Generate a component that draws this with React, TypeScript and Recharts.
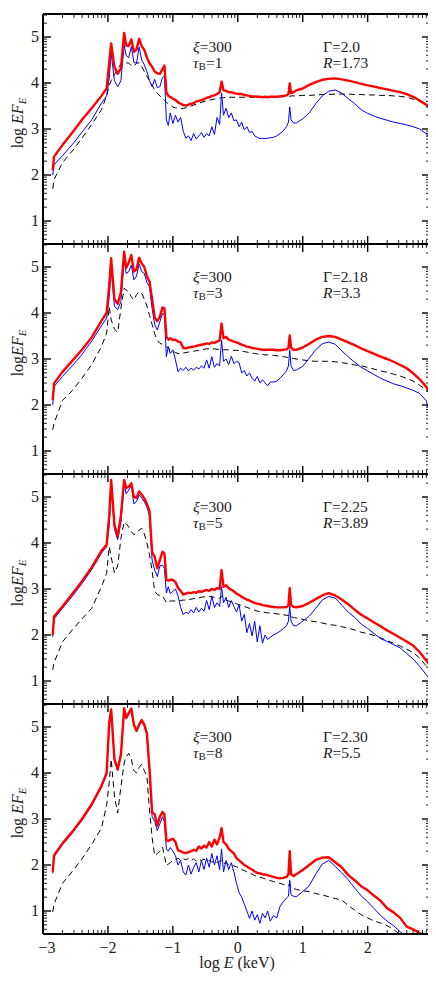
import React from "react";
import { LineChart, Line, XAxis, YAxis } from "recharts";

// log E (keV) sample points shared by every spectrum
const E_GRID = [
  -2.85, -2.83, -2.7, -2.55, -2.4, -2.25, -2.1, -2.02,
  -1.98, -1.95, -1.9, -1.85, -1.8, -1.75, -1.72, -1.68, -1.64, -1.6, -1.56, -1.52, -1.48, -1.44, -1.4, -1.36, -1.32, -1.28, -1.24, -1.2, -1.16, -1.13, -1.1, -1.07, -1.04, -1.0,
  -0.96, -0.92, -0.88, -0.84, -0.8, -0.76, -0.72, -0.68, -0.64, -0.6, -0.56, -0.52, -0.48, -0.44, -0.4, -0.36, -0.32, -0.28, -0.25, -0.22, -0.18, -0.14, -0.1, -0.06, -0.02, 0.02, 0.06, 0.1, 0.14, 0.18, 0.22, 0.26, 0.3, 0.34, 0.38, 0.42, 0.46, 0.5,
  0.55, 0.6, 0.65, 0.7, 0.75, 0.78, 0.8, 0.82, 0.86, 0.9,
  1.0, 1.1, 1.2, 1.3, 1.4, 1.5, 1.6, 1.7, 1.8, 1.9, 2.0, 2.1, 2.2, 2.3, 2.4, 2.5, 2.6, 2.7, 2.8, 2.9, 2.98,
];

// panel 1: xi=300, tau_B=1
const RED_1 = [
  2.1, 2.4, 2.65, 2.92, 3.2, 3.45, 3.72, 3.88,
  4.45, 4.86, 4.35, 4.2, 4.32, 5.09, 4.82, 4.8, 4.95, 4.68, 4.72, 4.96, 4.8, 4.72, 4.55, 4.43, 4.35, 4.25, 4.21, 4.2, 4.3, 4.38, 3.8, 3.72, 3.7, 3.66,
  3.63, 3.58, 3.55, 3.52, 3.51, 3.53, 3.55, 3.56, 3.6, 3.61, 3.63, 3.65, 3.68, 3.69, 3.72, 3.73, 3.76, 3.8, 4.03, 3.84, 3.83, 3.8, 3.8, 3.78, 3.77, 3.76, 3.76, 3.74, 3.73, 3.72, 3.71, 3.71, 3.7, 3.7, 3.69, 3.7, 3.69, 3.7,
  3.7, 3.7, 3.71, 3.72, 3.73, 3.76, 3.99, 3.78, 3.8, 3.84,
  3.88, 3.96, 4.02, 4.07, 4.09, 4.1, 4.08, 4.05, 4.02, 3.98, 3.95, 3.92, 3.89, 3.86, 3.83, 3.8, 3.76, 3.7, 3.62, 3.53, 3.44,
];
const BLUE_1 = [
  2.0, 2.22, 2.42, 2.66, 2.93, 3.2, 3.56, 3.72,
  4.1, 4.65, 4.05, 3.92, 4.05, 4.83, 4.6, 4.55, 4.79, 4.45, 4.43, 4.78, 4.5, 4.4, 4.25, 4.05, 3.92, 4.08, 3.9, 3.92, 4.12, 4.15, 3.2, 3.08, 3.35, 3.12,
  3.3, 3.15, 3.25, 2.95, 2.8, 2.85, 2.75, 2.9, 2.78, 2.85, 2.92, 2.82, 2.9, 2.85, 3.05, 2.88, 3.25, 3.1, 3.78, 3.3, 3.45, 3.25, 3.35, 3.18, 3.2, 3.05, 3.15, 2.98, 3.05, 2.92, 2.95, 2.85, 2.82, 2.79, 2.8, 2.79, 2.8, 2.81,
  2.82, 2.85, 2.9, 2.96, 3.05, 3.15, 3.48, 3.2, 3.13, 3.13,
  3.22, 3.35, 3.55, 3.72, 3.82, 3.85, 3.78, 3.66, 3.55, 3.42, 3.34, 3.28, 3.23, 3.19, 3.15, 3.12, 3.09, 3.05, 3.0, 2.9, 2.75,
];
const DASH_1 = [
  1.7, 1.9, 2.27, 2.52, 2.8, 3.1, 3.42, 3.72,
  3.95, 4.05, 4.18, 4.3, 4.42, 4.45, 4.44, 4.43, 4.38, 4.36, 4.43, 4.44, 4.36, 4.25, 4.15, 4.05, 3.95, 3.85, 3.78, 3.72, 3.66, 3.62, 3.58, 3.55, 3.52, 3.48,
  3.46, 3.45, 3.44, 3.45, 3.46, 3.48, 3.5, 3.52, 3.54, 3.56, 3.58, 3.6, 3.61, 3.62, 3.64, 3.65, 3.66, 3.67, 3.68, 3.68, 3.69, 3.69, 3.69, 3.69, 3.69, 3.69, 3.69, 3.69, 3.69, 3.69, 3.69, 3.69, 3.69, 3.69, 3.69, 3.69, 3.69, 3.69,
  3.69, 3.7, 3.7, 3.7, 3.71, 3.71, 3.71, 3.72, 3.72, 3.72,
  3.73, 3.73, 3.74, 3.75, 3.75, 3.76, 3.76, 3.76, 3.75, 3.75, 3.74, 3.74, 3.73, 3.73, 3.72, 3.71, 3.69, 3.65, 3.6, 3.53, 3.47,
];

// panel 2: xi=300, tau_B=3
const RED_2 = [
  2.11, 2.47, 2.72, 2.96, 3.2, 3.47, 3.83, 4.0,
  4.6, 5.19, 4.3, 4.2, 4.45, 5.33, 4.98, 5.1, 5.26, 4.9, 4.95, 5.2, 5.08, 5.0, 4.8, 4.68, 4.3, 3.9, 3.82, 3.92, 4.12, 4.1, 3.48, 3.42, 3.45, 3.41,
  3.42, 3.38, 3.36, 3.24, 3.23, 3.25, 3.26, 3.27, 3.28, 3.3, 3.31, 3.32, 3.34, 3.33, 3.36, 3.35, 3.38, 3.4, 3.77, 3.45, 3.48, 3.42, 3.4, 3.38, 3.36, 3.34, 3.31, 3.29, 3.27, 3.26, 3.24, 3.23, 3.22, 3.21, 3.2, 3.2, 3.2, 3.2,
  3.2, 3.19, 3.19, 3.2, 3.21, 3.24, 3.51, 3.25, 3.2, 3.2,
  3.25, 3.33, 3.42, 3.48, 3.5, 3.48, 3.42, 3.36, 3.3, 3.23, 3.17, 3.11, 3.05, 3.0, 2.94, 2.87, 2.8, 2.69, 2.56, 2.4, 2.2,
];
const BLUE_2 = [
  2.0, 2.4, 2.62, 2.85, 3.1, 3.39, 3.72, 3.89,
  4.35, 4.94, 4.15, 4.07, 4.25, 5.19, 4.86, 4.9, 5.04, 4.72, 4.8, 5.07, 4.9, 4.86, 4.66, 4.57, 4.1, 3.75, 3.63, 3.81, 3.99, 3.95, 3.05, 3.27, 3.12, 3.2,
  2.98, 2.72, 2.8, 2.75, 2.82, 2.74, 2.8, 2.76, 2.82, 2.78, 2.85, 2.8, 2.98, 2.8, 3.05, 2.82, 2.9, 2.85, 3.41, 2.95, 3.0, 2.88, 3.06, 2.9, 2.95, 2.92, 2.7, 2.75, 2.63, 2.7, 2.58, 2.52, 2.62, 2.48, 2.55, 2.48, 2.42, 2.5,
  2.5, 2.52, 2.58, 2.66, 2.74, 2.85, 3.2, 2.85, 2.75, 2.76,
  2.84, 3.02, 3.2, 3.33, 3.37, 3.32, 3.18, 3.05, 2.93, 2.82, 2.74, 2.66, 2.58, 2.52, 2.46, 2.42, 2.37, 2.32, 2.25, 2.1, 1.72,
];
const DASH_2 = [
  1.46, 1.6, 2.1, 2.31, 2.58, 2.88, 3.27, 3.56,
  4.14, 3.85, 3.65, 3.58, 4.1, 4.54, 4.5, 4.46, 4.35, 4.28, 4.4, 4.46, 4.43, 4.3, 4.15, 3.95, 3.75, 3.55, 3.4, 3.34, 3.32, 3.3, 3.27, 3.24, 3.2, 3.17,
  3.14, 3.12, 3.12, 3.13, 3.14, 3.15, 3.16, 3.17, 3.18, 3.19, 3.2, 3.21, 3.22, 3.22, 3.22, 3.22, 3.21, 3.21, 3.21, 3.2, 3.2, 3.2, 3.2, 3.19, 3.19, 3.18, 3.17, 3.16, 3.15, 3.14, 3.13, 3.12, 3.11, 3.1, 3.1, 3.09, 3.09, 3.08,
  3.08, 3.07, 3.06, 3.05, 3.04, 3.03, 3.02, 3.02, 3.01, 3.0,
  2.98, 2.96, 2.95, 2.95, 2.95, 2.94, 2.92, 2.9, 2.87, 2.85, 2.82, 2.78, 2.74, 2.71, 2.67, 2.63, 2.58, 2.52, 2.43, 2.33, 2.24,
];

// panel 3: xi=300, tau_B=5
const RED_3 = [
  2.0, 2.4, 2.62, 2.89, 3.17, 3.47, 3.83, 3.96,
  4.6, 5.37, 4.4, 4.14, 4.6, 5.37, 5.2, 5.22, 5.3, 5.0, 4.98, 5.12, 5.05, 4.97, 4.85, 4.7, 3.8, 3.7, 3.45, 3.63, 3.81, 3.78, 3.2, 3.18, 3.2, 3.2,
  3.15, 3.02, 2.96, 2.88, 2.9, 2.92, 2.91, 2.93, 2.92, 2.95, 2.94, 2.96, 2.98, 2.96, 3.0, 2.98, 3.02, 3.0, 3.41, 3.05, 3.08, 3.02, 2.98, 2.95, 2.9, 2.87, 2.83, 2.8, 2.77, 2.75, 2.72, 2.7, 2.68, 2.67, 2.65, 2.64, 2.63, 2.62,
  2.61, 2.6, 2.6, 2.6, 2.61, 2.64, 3.02, 2.65, 2.61, 2.6,
  2.63, 2.7, 2.78, 2.86, 2.91, 2.86, 2.77, 2.67, 2.55, 2.44, 2.36, 2.27, 2.19, 2.1, 2.02, 1.94, 1.86, 1.77, 1.63, 1.45, 1.3,
];
const BLUE_3 = [
  1.96, 2.35, 2.58, 2.84, 3.12, 3.42, 3.78, 3.92,
  4.4, 5.22, 4.3, 4.07, 4.45, 5.3, 5.07, 5.15, 5.25, 4.85, 4.9, 5.04, 4.98, 4.9, 4.78, 4.6, 3.63, 3.41, 3.27, 3.5, 3.52, 3.45, 2.91, 3.05, 2.9, 2.95,
  3.0, 2.85, 2.6, 2.44, 2.5, 2.46, 2.55, 2.48, 2.6, 2.5, 2.58, 2.52, 2.75, 2.55, 2.85, 2.6, 2.7, 2.62, 3.05, 2.7, 2.82, 2.6, 2.75, 2.62, 2.5, 2.66, 2.3, 2.45, 2.05, 2.25, 1.98, 2.3, 1.85, 2.2, 1.82, 2.0, 1.9, 1.95,
  2.0, 2.04, 2.08, 2.14, 2.2, 2.3, 2.63, 2.3, 2.2, 2.2,
  2.3, 2.41, 2.58, 2.76, 2.84, 2.8, 2.65, 2.5, 2.38, 2.24, 2.14, 2.03, 1.92, 1.86, 1.79, 1.72, 1.6, 1.48, 1.32, 1.14, 1.0,
];
const DASH_3 = [
  1.24, 1.4, 1.85, 2.11, 2.35, 2.58, 3.05, 3.34,
  3.92, 3.7, 3.35, 3.5, 4.1, 4.46, 4.42, 4.35, 4.25, 4.18, 4.22, 4.28, 4.32, 4.2, 4.0, 3.75, 3.4, 2.95, 2.88, 2.86, 2.85, 2.78, 2.7, 2.72, 2.74, 2.74,
  2.74, 2.75, 2.75, 2.76, 2.76, 2.77, 2.78, 2.79, 2.8, 2.81, 2.82, 2.83, 2.84, 2.84, 2.83, 2.82, 2.81, 2.8, 2.85, 2.78, 2.76, 2.74, 2.72, 2.7, 2.68, 2.66, 2.64, 2.62, 2.6, 2.58, 2.56, 2.54, 2.52, 2.51, 2.5, 2.49, 2.48, 2.48,
  2.47, 2.46, 2.45, 2.44, 2.43, 2.42, 2.45, 2.4, 2.38, 2.37,
  2.34, 2.31, 2.29, 2.26, 2.23, 2.21, 2.18, 2.15, 2.11, 2.06, 2.03, 1.99, 1.94, 1.88, 1.82, 1.76, 1.69, 1.62, 1.5, 1.33, 1.15,
];

// panel 4: xi=300, tau_B=8
const RED_4 = [
  1.85, 2.21, 2.47, 2.72, 3.0, 3.32, 3.72, 4.0,
  5.1, 5.38, 4.3, 4.08, 4.4, 5.41, 5.2, 5.3, 5.4, 5.05, 4.92, 5.05, 5.15, 5.05, 4.86, 4.1, 3.15, 3.1, 2.85, 3.05, 3.15, 3.1, 2.54, 2.52, 2.55, 2.57,
  2.5, 2.32, 2.3, 2.27, 2.26, 2.28, 2.3, 2.33, 2.31, 2.4, 2.36, 2.42, 2.38, 2.5, 2.4, 2.55, 2.45, 2.6, 2.8, 2.5, 2.45, 2.35, 2.3, 2.25, 2.15, 2.1, 2.05, 2.0, 1.97, 1.93, 1.9, 1.86, 1.83, 1.82, 1.8, 1.79, 1.78, 1.76,
  1.74, 1.72, 1.71, 1.72, 1.74, 1.8, 2.3, 1.8, 1.76, 1.8,
  1.89, 2.0, 2.11, 2.16, 2.17, 2.06, 1.95, 1.78, 1.67, 1.54, 1.45, 1.33, 1.22, 1.06, 0.97, 0.85, 0.66, 0.6, 0.52, 0.45, 0.4,
];
const BLUE_4 = [
  1.82, 2.18, 2.44, 2.69, 2.97, 3.29, 3.69, 3.97,
  5.05, 5.35, 4.27, 4.05, 4.37, 5.38, 5.17, 5.27, 5.37, 5.02, 4.89, 5.02, 5.12, 5.02, 4.82, 4.0, 3.05, 2.95, 2.75, 2.9, 3.05, 2.95, 2.35, 2.3, 2.38, 2.3,
  2.2, 2.0, 2.1, 1.85, 1.78, 2.0, 1.8, 1.95, 2.05, 1.85, 2.1, 1.9, 2.15, 1.95, 2.25, 2.0, 2.2, 1.9, 2.35, 1.85, 2.1, 1.9, 2.05, 1.85, 1.6, 1.4, 1.3, 1.15, 1.0, 0.84, 1.0, 0.8, 0.92, 0.73, 0.95, 0.85, 1.0, 0.78,
  0.9, 0.85, 1.1, 1.2, 1.28, 1.32, 1.67, 1.35, 1.32, 1.31,
  1.42, 1.55, 1.8, 2.02, 2.1, 1.97, 1.83, 1.68, 1.5, 1.33, 1.2, 1.05, 0.9, 0.78, 0.68, 0.55, 0.45, 0.4, 0.35, 0.3, 0.3,
];
const DASH_4 = [
  0.98, 1.15, 1.6, 1.86, 2.13, 2.45, 2.8, 3.3,
  3.8, 4.3, 3.5, 3.13, 3.7, 4.22, 4.35, 4.43, 4.3, 4.05, 4.0, 4.12, 4.19, 4.05, 3.93, 3.2, 2.6, 2.2, 2.25, 2.3, 2.39, 2.2, 1.99, 2.02, 2.05, 2.1,
  2.12, 2.15, 2.1, 2.14, 2.11, 2.15, 2.1, 2.13, 2.08, 2.12, 2.1, 2.13, 2.08, 2.1, 2.06, 2.1, 2.05, 2.08, 2.1, 2.03, 2.05, 2.0, 2.02, 1.98, 1.96, 1.94, 1.9, 1.88, 1.85, 1.83, 1.8, 1.77, 1.75, 1.73, 1.72, 1.7, 1.68, 1.66,
  1.64, 1.62, 1.6, 1.58, 1.55, 1.55, 1.6, 1.52, 1.49, 1.47,
  1.44, 1.42, 1.38, 1.35, 1.31, 1.27, 1.24, 1.12, 1.02, 0.92, 0.85, 0.78, 0.74, 0.68, 0.6, 0.48, 0.4, 0.35, 0.3, 0.3, 0.3,
];

const X_MAJOR = [-3, -2, -1, 0, 1, 2];
const X_LABELS = ["\u22123", "\u22122", "\u22121", "0", "1", "2"];
const Y_MAJOR = [1, 2, 3, 4, 5];
const Y_LABELS = ["1", "2", "3", "4", "5"];

const XI = ["300", "300", "300", "300"];
const TAU_B = ["1", "3", "5", "8"];
const GAMMA = ["2.0", "2.18", "2.25", "2.30"];
const R_VALUES = ["1.73", "3.3", "3.89", "5.5"];
const Y_TITLE_SPACE = [true, false, false, true];

const SERIES = [
  [RED_1, BLUE_1, DASH_1],
  [RED_2, BLUE_2, DASH_2],
  [RED_3, BLUE_3, DASH_3],
  [RED_4, BLUE_4, DASH_4],
];

const X_DOMAIN: [number, number] = [-3, 2.96];
const Y_DOMAIN: [number, number] = [0.5, 5.5];
const SERIF = "'Liberation Serif', 'DejaVu Serif', serif";

const PANEL_TOP = 14;
const PANEL_H = 230;
const PAD = 4;
const LEFT = 43;
const RIGHT = 6;
const WIDTH = 436;

// log-spaced minor ticks between the integer majors
function logTicks(lo: number, hi: number) {
  const out: number[] = [];
  for (let n = Math.floor(lo); n < hi; n++) {
    out.push(n);
    for (let k = 2; k <= 9; k++) out.push(n + Math.log10(k));
  }
  return out.filter((v) => v >= lo - 1e-9 && v <= hi);
}
const X_TICKS = logTicks(X_DOMAIN[0], X_DOMAIN[1]);
const Y_TICKS = logTicks(Y_DOMAIN[0], Y_DOMAIN[1]);

const isMajor = (v: number) => Math.abs(v - Math.round(v)) < 1e-6;

function makeTick(side: "bottom" | "top" | "left" | "right", labels: boolean) {
  return (props: any) => {
    const { x, y, payload } = props;
    const v = payload.value as number;
    const major = isMajor(v);
    const len = major ? 8 : 4;
    const sw = major ? 1.4 : 0.9;
    let line;
    if (side === "bottom") line = <line x1={x} x2={x} y1={y} y2={y - len} stroke="#000" strokeWidth={sw} />;
    else if (side === "top") line = <line x1={x} x2={x} y1={y} y2={y + len} stroke="#000" strokeWidth={sw} />;
    else if (side === "left") line = <line x1={x} x2={x + len} y1={y} y2={y} stroke="#000" strokeWidth={sw} />;
    else line = <line x1={x} x2={x - len} y1={y} y2={y} stroke="#000" strokeWidth={sw} />;
    let text = null;
    if (labels && major) {
      if (side === "bottom") {
        const i = X_MAJOR.indexOf(Math.round(v));
        if (i >= 0)
          text = (
            <text x={x + (i === 0 ? 4 : 0)} y={y + 19} textAnchor="middle" fontSize={16} fontFamily={SERIF} fill="#222">
              {X_LABELS[i]}
            </text>
          );
      } else if (side === "left") {
        const i = Y_MAJOR.indexOf(Math.round(v));
        if (i >= 0)
          text = (
            <text x={x - 4} y={y + 5} textAnchor="end" fontSize={16} fontFamily={SERIF} fill="#222">
              {Y_LABELS[i]}
            </text>
          );
      }
    }
    return (
      <g>
        {line}
        {text}
      </g>
    );
  };
}

const AXIS_LINE = { stroke: "#000", strokeWidth: 2 };
const AXIS_COMMON = {
  type: "number" as const,
  allowDataOverflow: true,
  interval: 0 as const,
  tickLine: false,
  tickSize: 0,
  tickMargin: 0,
  axisLine: AXIS_LINE,
};

function Panel({ index }: { index: number }) {
  const [red, blue, dash] = SERIES[index];
  const data = E_GRID.map((e, i) => ({ e, red: red[i], blue: blue[i], dash: dash[i] }));
  const last = index === SERIES.length - 1;
  const top = PANEL_TOP + index * PANEL_H;
  const bottomPad = last ? 45 : PAD;
  // every axis band is 1px wide, taken out of the margins
  return (
    <div style={{ position: "absolute", left: 0, top: top - PAD }}>
      <LineChart
        width={WIDTH}
        height={PANEL_H + PAD + bottomPad}
        data={data}
        margin={{ top: PAD - 1, right: RIGHT - 1, bottom: bottomPad - 1, left: LEFT - 1 }}
      >
        <XAxis {...AXIS_COMMON} dataKey="e" domain={X_DOMAIN} ticks={X_TICKS} height={1} tick={makeTick("bottom", last)} />
        <XAxis
          {...AXIS_COMMON}
          xAxisId="top"
          orientation="top"
          dataKey="e"
          domain={X_DOMAIN}
          ticks={X_TICKS}
          height={1}
          tick={makeTick("top", false)}
        />
        <YAxis {...AXIS_COMMON} domain={Y_DOMAIN} ticks={Y_TICKS} width={1} tick={makeTick("left", true)} />
        <YAxis
          {...AXIS_COMMON}
          yAxisId="right"
          orientation="right"
          domain={Y_DOMAIN}
          ticks={Y_TICKS}
          width={1}
          tick={makeTick("right", false)}
        />
        <Line dataKey="dash" stroke="#000" strokeWidth={1} strokeDasharray="6 4" dot={false} isAnimationActive={false} />
        <Line dataKey="blue" stroke="#0000ff" strokeWidth={1} dot={false} isAnimationActive={false} />
        <Line dataKey="red" stroke="#ff0000" strokeWidth={2.4} strokeLinejoin="round" dot={false} isAnimationActive={false} />
      </LineChart>
      <div style={{ position: "absolute", left: 193, top: PAD + 25, fontSize: 15.5, lineHeight: "16px", color: "#222" }}>
        <div>
          <i>ξ</i>=<span>{XI[index]}</span>
        </div>
        <div>
          <i>τ</i>
          <sub style={{ fontSize: 11, verticalAlign: "-2px" }}>B</sub>={TAU_B[index]}
        </div>
      </div>
      <div style={{ position: "absolute", left: 323, top: PAD + 25, fontSize: 15.5, lineHeight: "16px", color: "#222" }}>
        <div>Γ={GAMMA[index]}</div>
        <div>
          <i>R</i>={R_VALUES[index]}
        </div>
      </div>
      <div
        style={{
          position: "absolute",
          left: 18,
          top: PAD + PANEL_H / 2 - 6,
          transform: "translate(-50%, -50%) rotate(-90deg)",
          whiteSpace: "nowrap",
          fontSize: 16,
          color: "#222",
        }}
      >
        log{Y_TITLE_SPACE[index] ? "\u00a0" : ""}
        <i>EF</i>
        <sub style={{ fontSize: 11, verticalAlign: "-3px" }}>
          <i>E</i>
        </sub>
      </div>
    </div>
  );
}

export default function App() {
  return (
    <div
      style={{
        position: "relative",
        width: WIDTH,
        height: 1007,
        margin: "-8px 0 0 -8px",
        background: "#fff",
        fontFamily: SERIF,
      }}
    >
      {SERIES.map((_, i) => (
        <Panel key={i} index={i} />
      ))}
      <div
        style={{
          position: "absolute",
          left: LEFT + 194,
          top: 954,
          transform: "translateX(-50%)",
          fontSize: 16,
          color: "#222",
          whiteSpace: "nowrap",
        }}
      >
        log <i>E</i> (keV)
      </div>
    </div>
  );
}
